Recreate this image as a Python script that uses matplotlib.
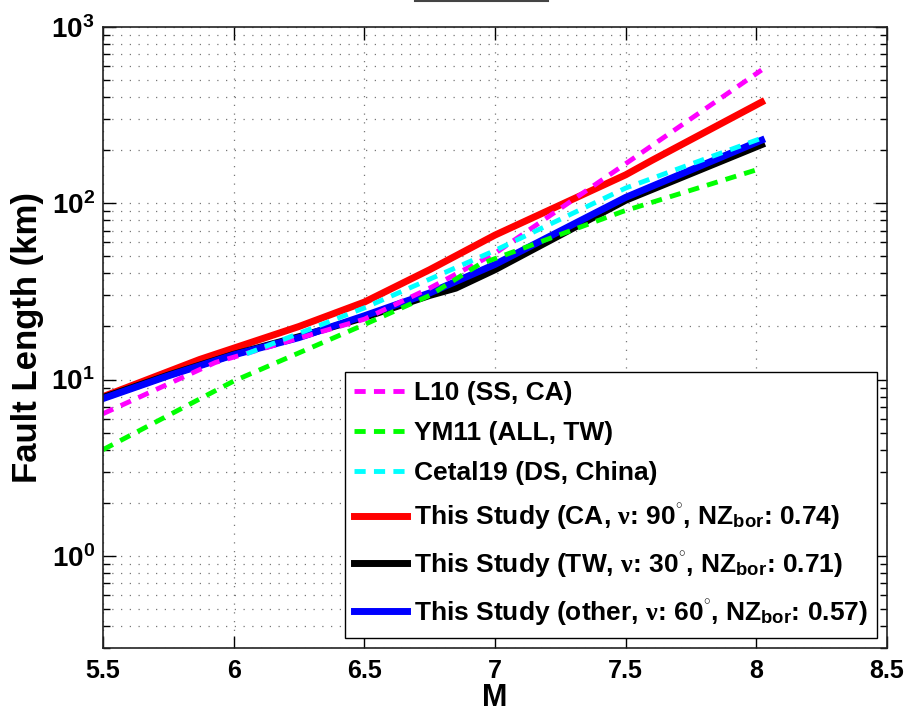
import numpy as np
import matplotlib
matplotlib.use("Agg")
import matplotlib.pyplot as plt
from matplotlib.lines import Line2D
from matplotlib.ticker import FixedLocator, FixedFormatter, FuncFormatter, NullFormatter

# values (M vs fault length in km)
l10_m = [5.5, 5.93, 6.5, 6.75, 7.0, 7.48, 8.02]
l10_len = [6.4, 12.5, 22, 33, 52, 160, 570]

ym11_m = [5.5, 6.0, 6.5, 6.75, 6.94, 7.49, 8.02]
ym11_len = [4.0, 9.8, 20.5, 30, 45, 90, 158]

cetal19_m = [6.05, 6.5, 7.0, 7.5, 8.02]
cetal19_len = [14.0, 25.5, 54, 122, 234]

ca_m = [5.5, 5.87, 6.25, 6.5, 6.75, 7.0, 7.5, 7.6, 8.02]
ca_len = [8.0, 13.0, 20.0, 27.5, 42, 66, 145, 175, 375]

tw_m = [5.5, 5.75, 6.0, 6.25, 6.5, 6.75, 6.85, 7.0, 7.5, 8.02]
tw_len = [7.9, 10.6, 13.9, 17.5, 22.5, 30, 33, 42, 104, 215]

other_m = [5.5, 5.75, 6.0, 6.25, 6.5, 6.75, 7.0, 7.5, 8.02]
other_len = [7.8, 10.5, 13.8, 17.3, 23, 31, 45, 108, 228]

labels = [
    "L10 (SS, CA)",
    "YM11 (ALL, TW)",
    "Cetal19 (DS, China)",
    r"This Study (CA, $\nu$: 90$^{^{\circ}}$, NZ$_{\mathbf{bor}}$: 0.74)",
    r"This Study (TW, $\nu$: 30$^{^{\circ}}$, NZ$_{\mathbf{bor}}$: 0.71)",
    r"This Study (other, $\nu$: 60$^{^{\circ}}$, NZ$_{\mathbf{bor}}$: 0.57)",
]

x_ticks = [5.5, 6, 6.5, 7, 7.5, 8, 8.5]
x_ticklabels = ["5.5", "6", "6.5", "7", "7.5", "8", "8.5"]

plt.rcParams["font.family"] = ["Liberation Sans", "DejaVu Sans"]
plt.rcParams["font.weight"] = "bold"
plt.rcParams["mathtext.fontset"] = "custom"
plt.rcParams["mathtext.rm"] = "Liberation Serif"
plt.rcParams["mathtext.it"] = "Liberation Serif:italic"
plt.rcParams["mathtext.bf"] = "Liberation Sans:bold"
plt.rcParams["mathtext.default"] = "rm"

fig = plt.figure(figsize=(9.12, 7.12), dpi=100)
ax = fig.add_axes([103 / 912, 64 / 712, 784 / 912, 621 / 712])

dash = (2.3, 1.7)
h_red, = ax.plot(ca_m, ca_len, color="#ff0000", lw=5, label=labels[3])
h_blk, = ax.plot(tw_m, tw_len, color="black", lw=5, label=labels[4])
h_blu, = ax.plot(other_m, other_len, color="#0000ff", lw=5, label=labels[5])
h_mag, = ax.plot(l10_m, l10_len, color="#ff00ff", lw=3.5, dashes=dash, label=labels[0])
h_grn, = ax.plot(ym11_m, ym11_len, color="#00ff00", lw=3.5, dashes=dash, label=labels[1])
h_cyn, = ax.plot(cetal19_m, cetal19_len, color="#00ffff", lw=3.5, dashes=dash, label=labels[2])

ax.set_yscale("log")
ax.set_xlim(5.5, 8.5)
ax.set_ylim(0.3, 1000)

ax.xaxis.set_major_locator(FixedLocator(x_ticks))
ax.xaxis.set_major_formatter(FixedFormatter(x_ticklabels))
ax.yaxis.set_major_locator(FixedLocator([1, 10, 100, 1000]))
ax.yaxis.set_major_formatter(FuncFormatter(lambda v, p: r"$\mathbf{10^{%d}}$" % round(np.log10(v))))
minor = [k * 10.0 ** e for e in range(-1, 3) for k in range(2, 10)]
ax.yaxis.set_minor_locator(FixedLocator(minor))
ax.yaxis.set_minor_formatter(NullFormatter())

ax.tick_params(which="both", direction="in", top=True, right=True, width=1)
ax.tick_params(which="major", length=9)
ax.tick_params(which="minor", length=5)
ax.tick_params(axis="x", labelsize=18, pad=8)
ax.tick_params(axis="y", labelsize=20, pad=6)

grid_kw = dict(color="#777777", linestyle=(0, (1, 6)), linewidth=0.9)
ax.grid(True, which="both", axis="y", **grid_kw)
ax.grid(True, which="major", axis="x", **grid_kw)
ax.set_axisbelow(True)

for s in ax.spines.values():
    s.set_linewidth(1.2)
    s.set_color("#222222")

ax.set_xlabel("M", fontsize=22, fontweight="bold", labelpad=0)
ax.set_ylabel("Fault Length (km)", fontsize=25, fontweight="bold", labelpad=5)

leg = ax.legend(handles=[h_mag, h_grn, h_cyn, h_red, h_blk, h_blu],
                loc="lower right", bbox_to_anchor=(0.987, 0.016), borderaxespad=0,
                fontsize=19, handlelength=2.0, handletextpad=0.25, borderpad=0.35,
                labelspacing=0.62, fancybox=False, framealpha=1, edgecolor="black")
leg.get_frame().set_linewidth(1.0)

# remnant of the cropped box at the top edge
fig.add_artist(Line2D([415 / 912, 548 / 912], [0.999, 0.999], color="#444444", lw=1.5,
                      transform=fig.transFigure))

fig.savefig("out.png", dpi=100)
